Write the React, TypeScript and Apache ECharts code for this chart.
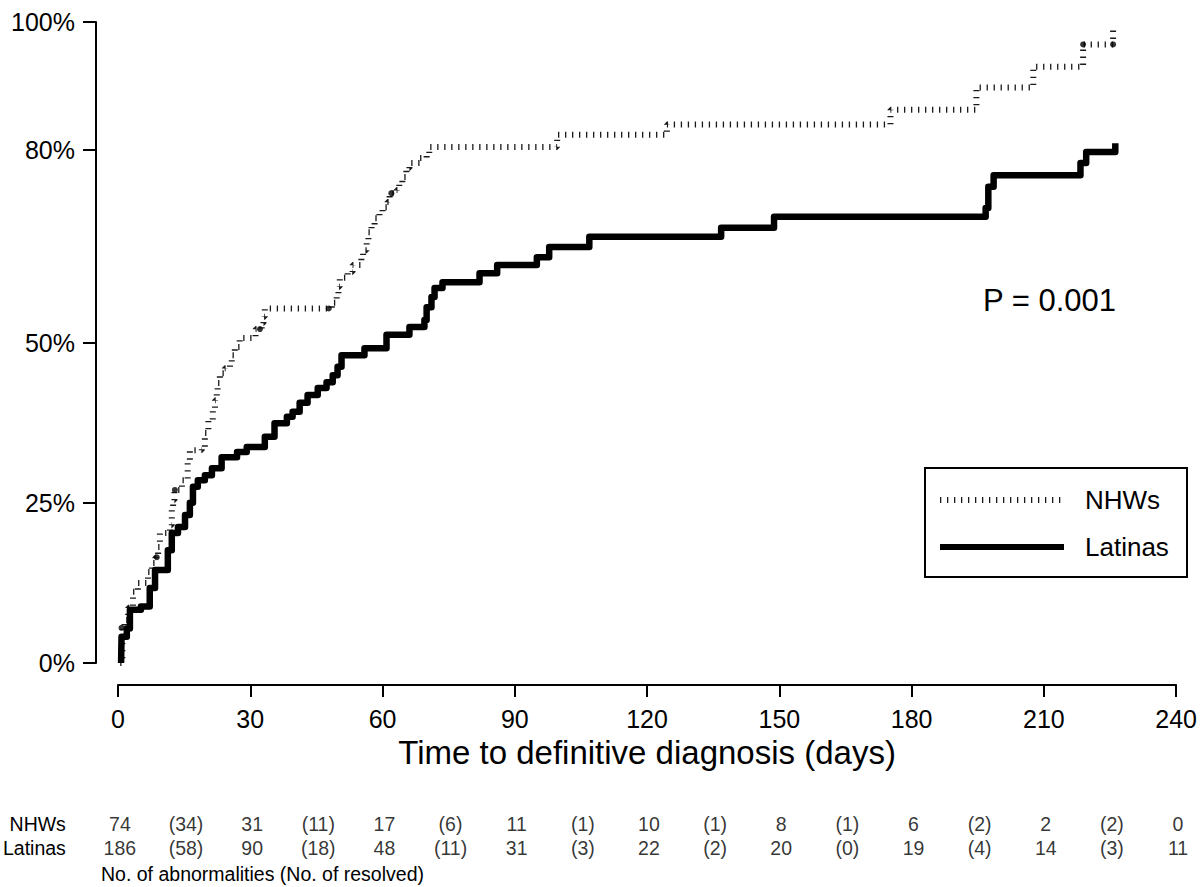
import React, { useEffect, useRef } from 'react';
import * as echarts from 'echarts';

// Cumulative % resolved (step curves), [day, percent after the step]
const nhwCurve: [number, number][] = [
  [0.5, 0], [1.0, 5.5], [1.5, 6.7], [2.3, 8.6], [3.4, 11.1], [4.5, 12.5], [6.8, 14.2], [7.7, 15.6],
  [8.5, 16.5], [9.1, 18.1], [9.5, 20.3], [11.8, 21.5], [12.2, 23.9], [12.5, 25.4], [12.8, 27],
  [14.5, 28.5], [15.8, 31.2], [16.3, 33.2], [19, 33.5], [19.7, 35.9], [20.5, 37.9], [21.5, 39.8],
  [22, 41], [22.4, 42.3], [22.6, 43.7], [23.1, 45.2], [24.2, 46], [25.4, 46.8], [25.8, 48],
  [26.5, 49.3], [27.6, 50.7], [31.2, 52.1], [32.6, 53], [33, 54], [33.3, 55.3], [48.5, 56.2],
  [49.6, 57.4], [50, 58.7], [50.3, 60.1], [52.1, 61], [53.2, 62.1], [55.2, 63.2], [55.6, 64.4],
  [56.4, 66], [56.8, 67.2], [57.5, 68.3], [58.2, 69.4], [59.3, 70.2], [60, 71.1], [61.1, 71.9],
  [61.6, 73.3], [63.2, 73.8], [63.8, 74.9], [64.5, 75.8], [65.4, 77.2], [66.1, 78], [68.4, 78.8],
  [70, 79.3], [70.6, 80.5], [99.6, 82.4], [124.5, 84], [175.2, 86.3], [194.7, 89.8], [207.6, 93],
  [218.9, 96.5], [225.7, 99], [226, 99],
];

const latCurve: [number, number][] = [
  [0.7, 0], [0.8, 4.1], [2.0, 5.4], [2.7, 8.3], [5.2, 8.8], [7.2, 11.7], [8.4, 14.5], [11.3, 17.6],
  [12.2, 20.3], [13.6, 21.2], [15.2, 23.1], [16.3, 25], [17, 27.5], [18.1, 28.5], [19.7, 29.3],
  [21.3, 30.4], [23.5, 32.1], [27, 32.9], [29.2, 33.7], [33.3, 35.3], [35.5, 37.4], [38.3, 38.4],
  [39.6, 39.2], [41.2, 40.6], [43, 41.8], [45.3, 42.9], [47.3, 43.8], [48.7, 44.9], [49.8, 46.2],
  [50.7, 48.0], [55.9, 49.1], [60.9, 51.2], [66.1, 52.4], [69.5, 53.5], [70, 55.5], [71.1, 57.1],
  [71.8, 58.5], [73.6, 59.4], [82, 60.8], [86, 62.1], [95, 63.3], [97.8, 64.9], [106.9, 66.5],
  [136.8, 67.9], [148.8, 69.6], [196.8, 71.0], [197.4, 74.3], [198.6, 76.1], [218.3, 78.0],
  [219.6, 79.7], [226.2, 81.1],
];

const nhwCensored: [number, number][] = [
  [0.8, 5.5], [8.8, 16.5], [12.9, 27], [32.2, 52.1], [47.8, 55.3], [62, 73.3], [218.9, 96.5], [225.7, 96.5],
];

const yTickValues = [0, 25, 50, 80, 100];
const xTickLabels = [0, 30, 60, 90, 120, 150, 180, 210, 240];

const rowNames = ['Latinas', 'NHWs'];
const atRiskDays = [0, 30, 60, 90, 120, 150, 180, 210, 240];
const resolvedDays = [15, 45, 75, 105, 135, 165, 195, 225];
const nhwAtRisk = [74, 31, 17, 11, 10, 8, 6, 2, 0];
const nhwResolved = [34, 11, 6, 1, 1, 1, 2, 2];
const latAtRisk = [186, 90, 48, 31, 22, 20, 19, 14, 11];
const latResolved = [58, 18, 11, 3, 2, 0, 4, 3];

const FONT = '"Liberation Sans", Arial, Helvetica, sans-serif';

function tableRow(name: string, atRisk: number[], resolved: number[]) {
  const d: any[] = [];
  atRiskDays.forEach((day, i) => d.push([day, name, String(atRisk[i])]));
  resolvedDays.forEach((day, i) => d.push([day, name, '(' + resolved[i] + ')']));
  return d;
}

export default function App() {
  const ref = useRef<HTMLDivElement>(null);
  useEffect(() => {
    const chart = echarts.init(ref.current!, null, { renderer: 'svg' });
    const option: any = {
      animation: false,
      backgroundColor: '#fff',
      textStyle: { fontFamily: FONT, color: '#000' },
      grid: [
        { left: 118, top: 22, width: 1060, height: 641 },
        { left: 118, top: 812, width: 1060, height: 48 },
      ],
      xAxis: [
        {
          type: 'value', gridIndex: 0, min: 0, max: 240, interval: 30, offset: 22,
          axisLine: { show: true, onZero: false, lineStyle: { color: '#000', width: 2 } },
          axisTick: { show: true, length: 12, lineStyle: { color: '#000', width: 2 } },
          axisLabel: {
            fontSize: 25, color: '#000', margin: 21, fontFamily: FONT,
            customValues: xTickLabels,
          },
          splitLine: { show: false },
          name: 'Time to definitive diagnosis (days)',
          nameLocation: 'middle', nameGap: 49,
          nameTextStyle: { fontSize: 33, color: '#000', fontFamily: FONT },
        },
        { type: 'value', gridIndex: 1, min: 0, max: 240, show: false },
      ],
      yAxis: [
        {
          type: 'value', gridIndex: 0, min: 0, max: 100, offset: 22,
          axisLine: { show: true, onZero: false, lineStyle: { color: '#000', width: 2 } },
          axisTick: { show: true, length: 13, lineStyle: { color: '#000', width: 2 }, customValues: yTickValues },
          axisLabel: {
            fontSize: 25, color: '#000', margin: 21, fontFamily: FONT,
            customValues: yTickValues, formatter: (v: number) => v + '%',
          },
          splitLine: { show: false },
        },
        {
          type: 'category', gridIndex: 1, data: rowNames,
          axisLine: { show: false }, axisTick: { show: false },
          axisLabel: { fontSize: 19.5, color: '#000', margin: 54, fontFamily: FONT, interval: 0, hideOverlap: false },
        },
      ],
      series: [
        {
          name: 'NHWs', type: 'line', step: 'end', data: nhwCurve, symbol: 'none',
          xAxisIndex: 0, yAxisIndex: 0,
          lineStyle: { color: '#1a1a1a', width: 6, type: [1.3, 5.7], cap: 'butt' },
          z: 3,
        },
        {
          name: 'Latinas', type: 'line', step: 'end', data: latCurve, symbol: 'none',
          xAxisIndex: 0, yAxisIndex: 0,
          lineStyle: { color: '#000', width: 6.5, join: 'round' },
          z: 4,
        },
        {
          name: 'NHWs censored', type: 'scatter', data: nhwCensored, symbol: 'circle', symbolSize: 6,
          itemStyle: { color: '#000' }, xAxisIndex: 0, yAxisIndex: 0, z: 5,
        },
        {
          name: 'table', type: 'scatter', xAxisIndex: 1, yAxisIndex: 1,
          data: [...tableRow('NHWs', nhwAtRisk, nhwResolved), ...tableRow('Latinas', latAtRisk, latResolved)],
          symbolSize: 1, itemStyle: { color: 'rgba(0,0,0,0)' },
          label: {
            show: true, position: 'inside', fontSize: 19.5, color: '#000', fontFamily: FONT,
            formatter: (p: any) => p.value[2],
          },
        },
      ],
      graphic: [
        {
          type: 'text', x: 983, y: 300,
          style: { text: 'P = 0.001', fontSize: 31, fontFamily: FONT, fill: '#000', align: 'left', verticalAlign: 'middle' },
        },
        {
          type: 'rect', shape: { x: 925, y: 468, width: 262, height: 109 },
          style: { fill: '#fff', stroke: '#000', lineWidth: 2 },
        },
        {
          type: 'line', shape: { x1: 940, y1: 500, x2: 1064, y2: 500 },
          style: { stroke: '#1a1a1a', lineWidth: 6, lineDash: [1.3, 5.7] },
        },
        {
          type: 'line', shape: { x1: 940, y1: 547, x2: 1064, y2: 547 },
          style: { stroke: '#000', lineWidth: 6 },
        },
        {
          type: 'text', x: 1085, y: 500,
          style: { text: 'NHWs', fontSize: 26, fontFamily: FONT, fill: '#000', align: 'left', verticalAlign: 'middle' },
        },
        {
          type: 'text', x: 1085, y: 547,
          style: { text: 'Latinas', fontSize: 26, fontFamily: FONT, fill: '#000', align: 'left', verticalAlign: 'middle' },
        },
        {
          type: 'text', x: 101, y: 874,
          style: { text: 'No. of abnormalities (No. of resolved)', fontSize: 19.5, fontFamily: FONT, fill: '#000', align: 'left', verticalAlign: 'middle' },
        },
      ],
    };
    chart.setOption(option);
    return () => chart.dispose();
  }, []);
  return <div ref={ref} style={{ position: 'fixed', left: 0, top: 0, width: 1200, height: 887, background: '#fff' }} />;
}
